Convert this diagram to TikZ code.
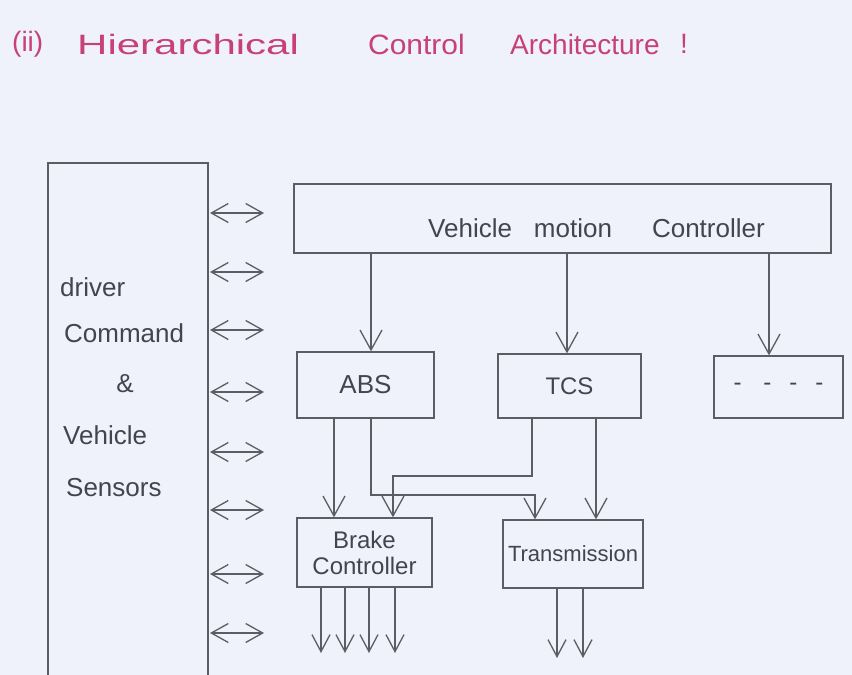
\documentclass[tikz,border=0pt]{standalone}
\usepackage{fontspec}
\setmainfont{Liberation Sans}
\usetikzlibrary{arrows.meta}
\definecolor{paper}{RGB}{239,242,250}
\definecolor{pencil}{RGB}{92,92,100}
\definecolor{ink}{RGB}{68,68,78}
\definecolor{titlepink}{RGB}{200,64,122}
\begin{document}
\begin{tikzpicture}[x=1pt,y=-1pt,
  box/.style={draw=pencil,line width=1.3pt,inner sep=0pt,text=ink,font=\fontsize{24}{26}\selectfont},
  lbl/.style={text=ink,inner sep=0pt,font=\fontsize{26}{30}\selectfont},
  ttl/.style={text=titlepink,inner sep=0pt,anchor=west,font=\fontsize{28}{32}\selectfont},
  flow/.style={draw=pencil,line width=1.3pt,-{Straight Barb[length=20pt,width=22pt]}},
  link/.style={draw=pencil,line width=1.3pt,{Straight Barb[length=17pt,width=19pt]}-{Straight Barb[length=17pt,width=19pt]}},
  outarrow/.style={draw=pencil,line width=1.3pt,-{Straight Barb[length=17pt,width=18pt]}}
]
\fill[paper] (0,0) rectangle (852,675);
\useasboundingbox (0,0) rectangle (852,675);

% title
\node[ttl] (t1) at (12,44) {(ii)};
\node[ttl] (t2) at (77,44) {\scalebox{1.5}[1]{Hierarchical}};
\node[ttl] (t3) at (368,44) {\scalebox{1.07}[1]{Control}};
\node[ttl] (t4) at (510,44) {Architecture};
\node[ttl] (t5) at (680,44) {!};

% left block
\node[box,minimum width=160pt,minimum height=540pt] (dcs) at (128,433) {};
\node[lbl,anchor=west] (l1) at (60,287) {driver};
\node[lbl,anchor=west] (l2) at (64,333) {Command};
\node[lbl] (l3) at (125,384) {\&};
\node[lbl,anchor=west] (l4) at (63,435) {Vehicle};
\node[lbl,anchor=west] (l5) at (66,488) {Sensors};

\foreach \yy [count=\i] in {213,272,330,392,452,510,574,633} {
  \coordinate (a\i) at (210,\yy);
  \coordinate (b\i) at (264,\yy);
  \draw[link] (a\i) -- (b\i);
}

% boxes
\node[box,minimum width=537pt,minimum height=69pt] (vmc) at (562.5,218.5) {};
\node[lbl,anchor=west] (vmct) at (428,228) {Vehicle\hspace{22pt}motion\hspace{40pt}Controller};
\node[box,minimum width=137pt,minimum height=66pt,font=\fontsize{26}{30}\selectfont] (abs) at (365.5,385) {ABS};
\node[box,minimum width=143pt,minimum height=64pt] (tcs) at (569.5,386) {TCS};
\node[box,minimum width=129pt,minimum height=62pt] (etc) at (778.5,387) {-\hspace{22pt}-\hspace{18pt}-\hspace{18pt}-};
\node[box,minimum width=135pt,minimum height=69pt,align=center] (brake) at (364.5,552.5) {Brake\\Controller};
\node[box,minimum width=140pt,minimum height=68pt,font=\fontsize{22}{26}\selectfont] (trans) at (573,554) {Transmission};

% x / y guides
\coordinate (cA) at (371,0);
\coordinate (cAl) at (334,0);
\coordinate (cT) at (567,0);
\coordinate (cE) at (769,0);
\coordinate (cTl) at (532,0);
\coordinate (cTr) at (596,0);
\coordinate (cBr) at (393,0);
\coordinate (cTi) at (535,0);
\coordinate (h1) at (0,476);
\coordinate (h2) at (0,495);

\draw[flow] (vmc.south -| cA) -- (abs.north -| cA);
\draw[flow] (vmc.south -| cT) -- (tcs.north -| cT);
\draw[flow] (vmc.south -| cE) -- (etc.north -| cE);
\draw[flow] (abs.south -| cAl) -- (brake.north -| cAl);
\draw[flow] (abs.south -| cA) -- (cA |- h2) -- (cTi |- h2) -- (trans.north -| cTi);
\draw[flow] (tcs.south -| cTl) -- (cTl |- h1) -- (cBr |- h1) -- (brake.north -| cBr);
\draw[flow] (tcs.south -| cTr) -- (trans.north -| cTr);

% outputs
\coordinate (o1) at (321,653);
\coordinate (o2) at (345,653);
\coordinate (o3) at (369,653);
\coordinate (o4) at (395,653);
\coordinate (o5) at (557,658);
\coordinate (o6) at (583,658);
\foreach \k in {o1,o2,o3,o4} \draw[outarrow] (brake.south -| \k) -- (\k);
\foreach \k in {o5,o6} \draw[outarrow] (trans.south -| \k) -- (\k);
\end{tikzpicture}
\end{document}
